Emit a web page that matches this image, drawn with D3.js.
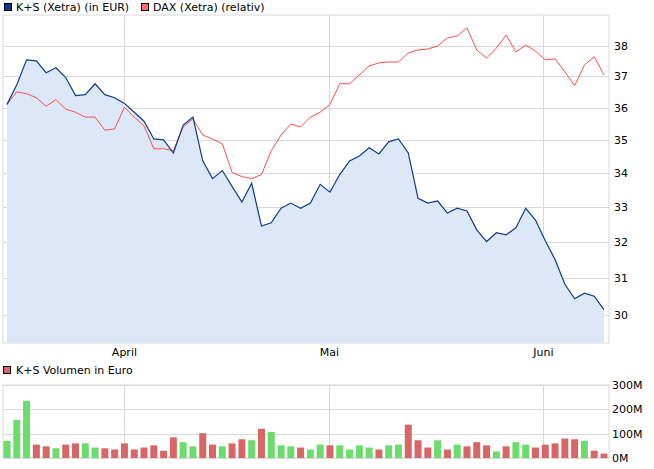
<!DOCTYPE html><html><head><meta charset="utf-8"><script src="https://cdn.jsdelivr.net/npm/d3@7"></script>
<style>body{margin:0;background:#fff}text{font-family:"DejaVu Sans",Verdana,sans-serif;font-size:11px;fill:#000}</style></head><body><svg id="c" width="654" height="469"></svg>
<script>
const ks=[36.10,36.73,37.54,37.51,37.12,37.28,36.96,36.38,36.41,36.76,36.41,36.31,36.13,35.85,35.57,35.02,34.99,34.59,35.45,35.70,34.35,33.82,34.06,33.59,33.13,33.68,32.44,32.53,32.95,33.10,32.95,33.10,33.65,33.42,33.94,34.35,34.50,34.75,34.56,34.93,35.02,34.59,33.24,33.10,33.16,32.81,32.95,32.87,32.33,32.00,32.25,32.19,32.39,32.95,32.61,32.02,31.50,30.82,30.43,30.58,30.50,30.14];
const dax=[36.10,36.50,36.44,36.31,36.04,36.25,35.95,35.85,35.70,35.70,35.29,35.33,36.01,35.70,35.42,34.72,34.72,34.66,35.39,35.64,35.14,35.02,34.87,34.00,33.88,33.82,33.94,34.66,35.14,35.48,35.39,35.70,35.85,36.10,36.76,36.76,37.05,37.34,37.44,37.47,37.47,37.77,37.87,37.90,38.00,38.27,38.34,38.61,37.87,37.60,37.93,38.37,37.80,38.03,37.83,37.54,37.57,37.15,36.70,37.37,37.64,37.05];
const vol=[70,157,235,55,48,40,55,60,60,43,40,35,60,35,43,52,30,85,65,48,102,55,48,60,77,73,120,107,52,48,43,35,55,52,52,35,52,43,35,52,55,137,73,43,73,35,55,48,65,52,27,48,65,55,43,55,60,80,77,70,30,18];
const up=[1,1,1,0,0,1,0,0,1,1,0,0,0,0,0,0,0,0,1,1,0,0,1,0,0,1,0,1,1,1,0,1,1,0,1,1,1,1,0,1,1,0,0,0,1,0,1,0,0,0,1,0,1,1,0,0,0,0,0,1,0,0];
const months=[{i:12,l:"April"},{i:32.95,l:"Mai"},{i:54.8,l:"Juni"}];
const priceTicks=[30,31,32,33,34,35,36,37,38];
const volTicks=[0,100,200,300];
const svg=d3.select("#c");
const L=3,R=609;
const x=d3.scaleLinear().domain([0,ks.length-1]).range([7,604]);
const y=d3.scaleLog().domain([29.27,39.05]).range([343,15]);
const yv=d3.scaleLinear().domain([0,300]).range([458,385]);
const grid="#d9d9d9";
svg.append("rect").attr("x",L).attr("y",15).attr("width",R-L).attr("height",328).attr("fill","none").attr("stroke",grid);
svg.selectAll(".hg").data(priceTicks).join("line").attr("x1",L).attr("x2",R).attr("y1",d=>Math.round(y(d))+.5).attr("y2",d=>Math.round(y(d))+.5).attr("stroke",grid);
svg.selectAll(".vg").data(months).join("line").attr("x1",d=>Math.round(x(d.i))+.5).attr("x2",d=>Math.round(x(d.i))+.5).attr("y1",15).attr("y2",343).attr("stroke",grid);
svg.append("path").datum(ks).attr("d",d3.area().x((d,i)=>x(i)).y0(343).y1(d=>y(d))).attr("fill","#dce8f8");
svg.append("path").datum(dax).attr("d",d3.line().x((d,i)=>x(i)).y(d=>y(d))).attr("fill","none").attr("stroke","#ff4d4d").attr("stroke-width",1);
svg.append("path").datum(ks).attr("d",d3.line().x((d,i)=>x(i)).y(d=>y(d))).attr("fill","none").attr("stroke","#0d3b8c").attr("stroke-width",1.2);
svg.selectAll(".pt").data(priceTicks).join("text").attr("x",614).attr("y",d=>y(d)+4).text(d=>d);
svg.selectAll(".mt").data(months).join("text").attr("x",d=>x(d.i)).attr("y",356).attr("text-anchor","middle").text(d=>d.l);
const lg=[{x:4,c:"#0d3b8c",t:"K+S (Xetra) (in EUR)"},{x:141,c:"#ff6b6b",t:"DAX (Xetra) (relativ)"}];
lg.forEach(d=>{svg.append("rect").attr("x",d.x+.5).attr("y",3.5).attr("width",7).attr("height",7).attr("fill",d.c).attr("stroke","#000");svg.append("text").attr("x",d.x+12).attr("y",11).text(d.t);});
svg.append("rect").attr("x",3.5).attr("y",366.5).attr("width",7).attr("height",7).attr("fill","#d96666").attr("stroke","#000");
svg.append("text").attr("x",16).attr("y",374).text("K+S Volumen in Euro");
svg.append("rect").attr("x",L).attr("y",385).attr("width",R-L).attr("height",73).attr("fill","none").attr("stroke",grid);
svg.selectAll(".vh").data(volTicks).join("line").attr("x1",L).attr("x2",R).attr("y1",d=>Math.round(yv(d))+.5).attr("y2",d=>Math.round(yv(d))+.5).attr("stroke",grid);
svg.selectAll(".vv").data(months).join("line").attr("x1",d=>Math.round(x(d.i))+.5).attr("x2",d=>Math.round(x(d.i))+.5).attr("y1",385).attr("y2",458).attr("stroke",grid);
svg.selectAll(".bar").data(vol).join("rect").attr("x",(d,i)=>x(i)-3.5).attr("width",7).attr("y",d=>yv(d)).attr("height",d=>yv(0)-yv(d)).attr("fill",(d,i)=>up[i]?"#6cdc6c":"#d96666");
svg.selectAll(".vt").data(volTicks).join("text").attr("x",612).attr("y",d=>yv(d)+4).text(d=>d+"M");
</script></body></html>
